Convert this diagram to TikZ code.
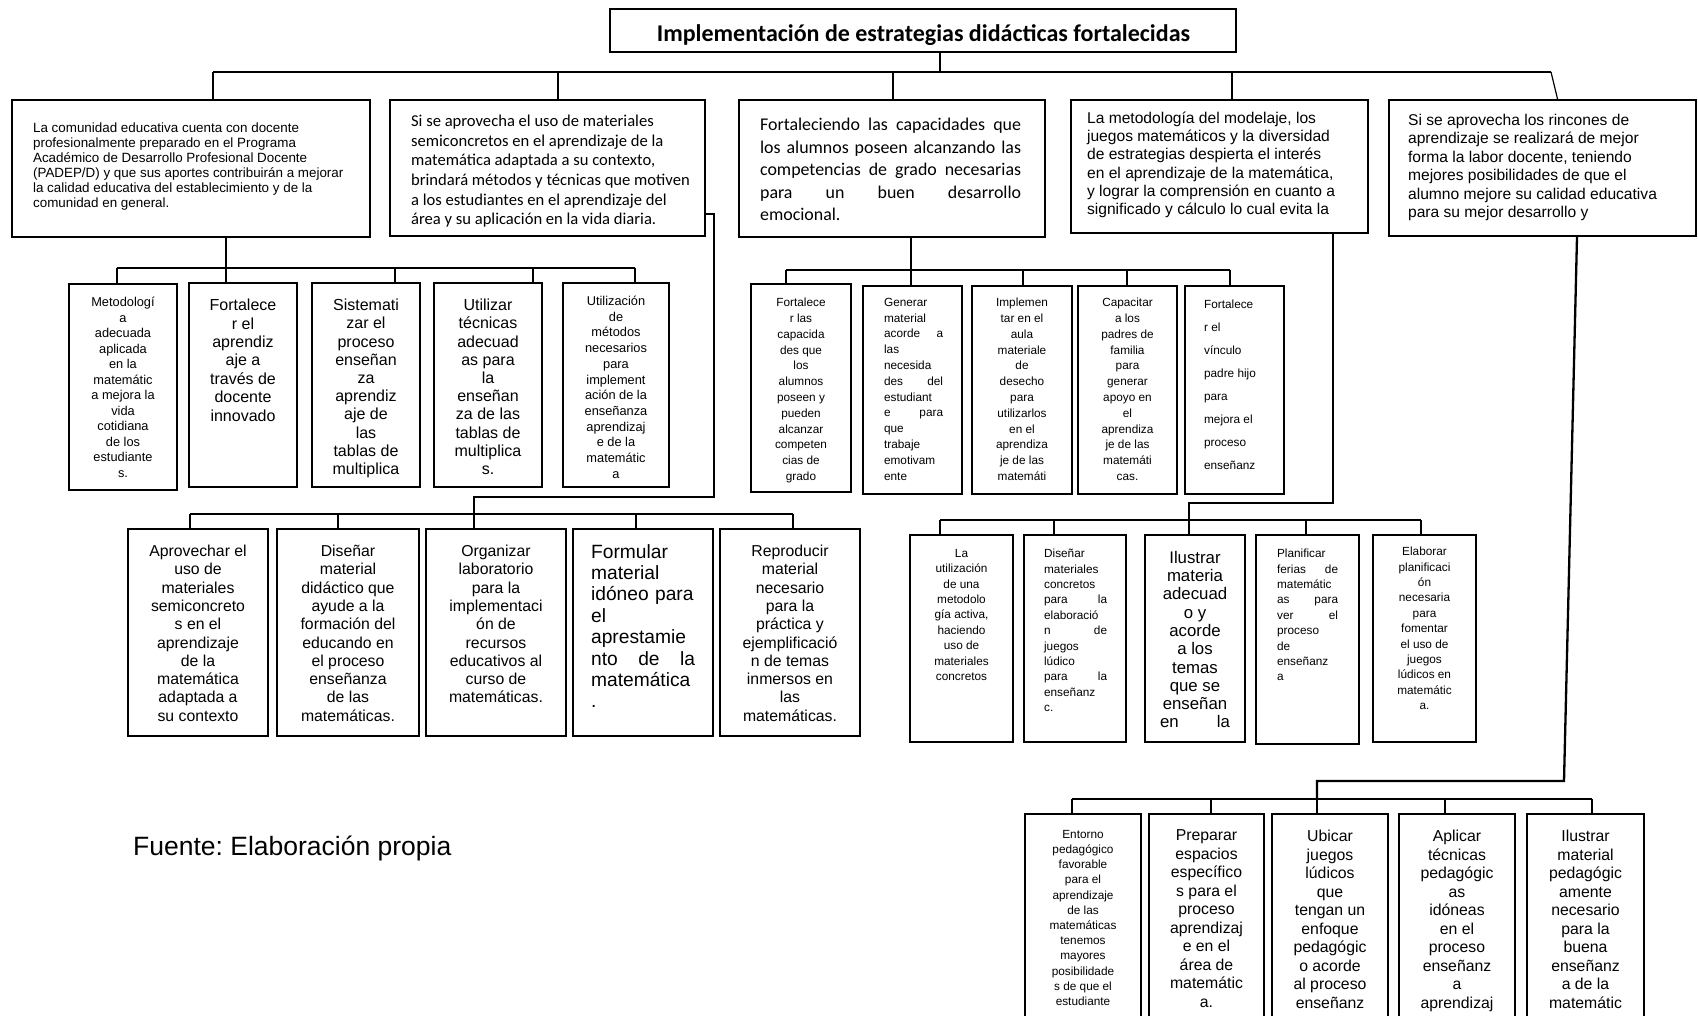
\documentclass[tikz,border=0pt]{standalone}
\usepackage{fontspec}
\setmainfont{Liberation Sans}
\newfontfamily\calibri{Carlito}
\frenchspacing
\newcommand{\tam}[2]{\fontsize{#1}{#2}\selectfont}
%Box from (x1,y1) to (x2,y2), y grows downwards
\newcommand{\caja}[5]{\node[caja, minimum width={#4-#2}, minimum height={#5-#3}] (#1) at ({(#2+#4)/2},{(#3+#5)/2}) {};}
%One justified line of the B3 text
\newcommand{\linea}[1]{\makebox[261pt][s]{#1}}
\tikzset{
  caja/.style={draw, line width=2.2pt, inner sep=0pt},
  txt/.style={anchor=north, align=center, inner sep=0pt},
  txtl/.style={anchor=north west, align=left, inner sep=0pt},
  hilo/.style={line width=1.2pt},
  rama/.style={line width=2.3pt},
  chica/.style={font=\tam{11.8}{15.8}},
  media/.style={font=\tam{12.8}{15.5}},
  grande/.style={font=\tam{15.8}{18.3}},
}

\begin{document}
\begin{tikzpicture}[x=1pt, y=-1pt]
\useasboundingbox (0,0) rectangle (1698,1016);
\clip (0,0) rectangle (1698,1016);

%%%%%%%%%%%%%%%%%%%%%%%%%%%%%%%%%%%%%%%%%%%%%%%%%%%%%%%%%%%%%%%%%%%%%%%%
%	Title and first row of boxes										 %
%%%%%%%%%%%%%%%%%%%%%%%%%%%%%%%%%%%%%%%%%%%%%%%%%%%%%%%%%%%%%%%%%%%%%%%%

	%Title, its descenders are cut by the box
	\caja{tit}{610}{9}{1236}{52}
	\begin{scope}
		\clip (610,9) rectangle (1236,45);
		\node[anchor=base, inner sep=0pt, font=\calibri\bfseries\tam{24}{26}] (tit-t) at (923.5,42) {Implementación de estrategias didácticas fortalecidas};
	\end{scope}

	\caja{B1}{12}{100}{370}{237}
	\caja{B2}{390}{100}{705}{236}
	\caja{B3}{739}{100}{1045}{237}
	\caja{B4}{1071}{100}{1368}{233}
	\caja{B5}{1389}{100}{1696}{236}

	\node[txtl, font=\tam{13.4}{15}] (B1-t) at ([xshift=22pt,yshift=-24pt]B1.north west) {La comunidad educativa cuenta con docente\\profesionalmente preparado en el Programa\\Académico de Desarrollo Profesional Docente\\(PADEP/D) y que sus aportes contribuirán a mejorar\\la calidad educativa del establecimiento y de la\\comunidad en general.};
	\node[txtl, font=\calibri\tam{16.6}{19.6}] (B2-t) at ([xshift=22pt,yshift=-16pt]B2.north west) {Si se aprovecha el uso de materiales\\semiconcretos en el aprendizaje de la\\matemática adaptada a su contexto,\\brindará métodos y técnicas que motiven\\a los estudiantes en el aprendizaje del\\área y su aplicación en la vida diaria.};
	\node[txtl, font=\calibri\tam{17.9}{22.5}] (B3-t) at ([xshift=22pt,yshift=-19pt]B3.north west) {\linea{Fortaleciendo las capacidades que}\\\linea{los alumnos poseen alcanzando las}\\\linea{competencias de grado necesarias}\\\linea{para un buen desarrollo}\\emocional.};
	\node[txtl, font=\tam{15.6}{18.2}] (B4-t) at ([xshift=17pt,yshift=-13pt]B4.north west) {La metodología del modelaje, los\\juegos matemáticos y la diversidad\\de estrategias despierta el interés\\en el aprendizaje de la matemática,\\y lograr la comprensión en cuanto a\\significado y cálculo lo cual evita la};
	\node[txtl, font=\tam{15.6}{18.4}] (B5-t) at ([xshift=20pt,yshift=-15pt]B5.north west) {Si se aprovecha los rincones de\\aprendizaje se realizará de mejor\\forma la labor docente, teniendo\\mejores posibilidades de que el\\alumno mejore su calidad educativa\\para su mejor desarrollo y};

	%Connectors from the title
	\coordinate (t0) at (940,72);
	\coordinate (bus0l) at (213,72);
	\coordinate (bus0r) at (1551,72);
	\draw[hilo] (tit.south -| t0) -- (t0);
	\draw[hilo] (bus0l) -- (bus0r);
	\foreach \x/\n in {213/B1,558/B2,893/B3,1232/B4}
		\draw[hilo] (\x,72) -- (\n.north -| \x,0);
	\draw[hilo] (bus0r) -- ([xshift=15pt]B5.north);

%%%%%%%%%%%%%%%%%%%%%%%%%%%%%%%%%%%%%%%%%%%%%%%%%%%%%%%%%%%%%%%%%%%%%%%%
%	Boxes under B1 and B2												 %
%%%%%%%%%%%%%%%%%%%%%%%%%%%%%%%%%%%%%%%%%%%%%%%%%%%%%%%%%%%%%%%%%%%%%%%%

	\caja{L1a}{69}{284}{177}{490}
	\caja{L1b}{189}{283}{297}{487}
	\caja{L1c}{312}{283}{420}{487}
	\caja{L1d}{434}{283}{542}{487}
	\caja{L1e}{563}{283}{669}{487}

	\node[txt, media] (L1a-t) at ([yshift=-14pt]L1a.north) {Metodologí\\a\\adecuada\\aplicada\\en la\\matemátic\\a mejora la\\vida\\cotidiana\\de los\\estudiante\\s.};
	\node[txt, font=\tam{16}{18.4}] (L1b-t) at ([yshift=-17pt]L1b.north) {Fortalece\\r el\\aprendiz\\aje a\\través de\\docente\\innovado};
	\node[txt, font=\tam{16}{18.2}] (L1c-t) at ([yshift=-17pt]L1c.north) {Sistemati\\zar el\\proceso\\enseñan\\za\\aprendiz\\aje de\\las\\tablas de\\multiplica};
	\node[txt, font=\tam{16}{18.2}] (L1d-t) at ([yshift=-17pt]L1d.north) {Utilizar\\técnicas\\adecuad\\as para\\la\\enseñan\\za de las\\tablas de\\multiplica\\s.};
	\node[txt, font=\tam{12.8}{15.7}] (L1e-t) at ([yshift=-14pt]L1e.north) {Utilización\\de\\métodos\\necesarios\\para\\implement\\ación de la\\enseñanza\\aprendizaj\\e de la\\matemátic\\a};

	\coordinate (j1) at (226,268);
	\draw[rama] (j1 |- B1.south) -- (j1);
	\draw[rama] (117,268) -- (635,268);
	\foreach \x/\n in {117/L1a,226/L1b,395/L1c,533/L1d,635/L1e}
		\draw[rama] (\x,268) -- (\n.north -| \x,0);

	\caja{L2a}{128}{529}{268}{736}
	\caja{L2b}{277}{529}{419}{736}
	\caja{L2c}{426}{529}{566}{736}
	\caja{L2d}{573}{529}{713}{736}
	\caja{L2e}{720}{529}{860}{736}

	\node[txt, grande] (L2a-t) at ([yshift=-17pt]L2a.north) {Aprovechar el\\uso de\\materiales\\semiconcreto\\s en el\\aprendizaje\\de la\\matemática\\adaptada a\\su contexto};
	\node[txt, grande] (L2b-t) at ([yshift=-17pt]L2b.north) {Diseñar\\material\\didáctico que\\ayude a la\\formación del\\educando en\\el proceso\\enseñanza\\de las\\matemáticas.};
	\node[txt, grande] (L2c-t) at ([yshift=-17pt]L2c.north) {Organizar\\laboratorio\\para la\\implementaci\\ón de\\recursos\\educativos al\\curso de\\matemáticas.};
	\node[txtl, text width=104pt, font=\tam{19.2}{21.4}] (L2d-t) at ([xshift=19pt,yshift=-16pt]L2d.north west) {Formular\\material\\idóneo para\\el\\aprestamie\\nto\hfill de\hfill la\\matemática\\.};
	\node[txt, grande] (L2e-t) at ([yshift=-17pt]L2e.north) {Reproducir\\material\\necesario\\para la\\práctica y\\ejemplificació\\n de temas\\inmersos en\\las\\matemáticas.};

	%B2 reaches its row from the right side
	\draw[rama] ([yshift=23pt]B2.south east) -| (714,497) -| (474,514);
	\draw[rama] (190,514) -- (793,514);
	\foreach \x/\n in {190/L2a,338/L2b,474/L2c,636/L2d,793/L2e}
		\draw[rama] (\x,514) -- (\n.north -| \x,0);

%%%%%%%%%%%%%%%%%%%%%%%%%%%%%%%%%%%%%%%%%%%%%%%%%%%%%%%%%%%%%%%%%%%%%%%%
%	Boxes under B3, B4 and B5											 %
%%%%%%%%%%%%%%%%%%%%%%%%%%%%%%%%%%%%%%%%%%%%%%%%%%%%%%%%%%%%%%%%%%%%%%%%

	\caja{L3a}{751}{284}{851}{492}
	\caja{L3b}{863}{286}{962}{494}
	\caja{L3c}{972}{286}{1072}{494}
	\caja{L3d}{1078}{286}{1177}{494}
	\caja{L3e}{1185}{286}{1284}{494}

	\node[txt, chica] (L3a-t) at ([yshift=-15pt]L3a.north) {Fortalece\\r las\\capacida\\des que\\los\\alumnos\\poseen y\\pueden\\alcanzar\\competen\\cias de\\grado};
	\node[txtl, chica, text width=59pt] (L3b-t) at ([xshift=22pt,yshift=-13pt]L3b.north west) {Generar\\material\\acorde\hfill a\\las\\necesida\\des\hfill del\\estudiant\\e\hfill para\\que\\trabaje\\emotivam\\ente};
	\node[txt, chica] (L3c-t) at ([yshift=-13pt]L3c.north) {Implemen\\tar en el\\aula\\materiale\\de\\desecho\\para\\utilizarlos\\en el\\aprendiza\\je de las\\matemáti};
	\node[txt, chica] (L3d-t) at ([yshift=-13pt]L3d.north) {Capacitar\\a los\\padres de\\familia\\para\\generar\\apoyo en\\el\\aprendiza\\je de las\\matemáti\\cas.};
	\node[txtl, font=\tam{11.8}{23}] (L3e-t) at ([xshift=20pt,yshift=-15pt]L3e.north west) {Fortalece\\r el\\vínculo\\padre hijo\\para\\mejora el\\proceso\\enseñanz};

	\coordinate (j3) at (911,270);
	\draw[rama] (j3 |- B3.south) -- (j3);
	\draw[rama] (786,270) -- (1230,270);
	\foreach \x/\n in {786/L3a,911/L3b,1023/L3c,1127/L3d,1230/L3e}
		\draw[rama] (\x,270) -- (\n.north -| \x,0);

	\caja{L4a}{910}{535}{1013}{742}
	\caja{L4b}{1024}{535}{1126}{742}
	\caja{L4c}{1145}{535}{1245}{742}
	\caja{L4d}{1256}{535}{1359}{744}
	\caja{L4e}{1373}{535}{1476}{742}

	\node[txt, font=\tam{11.8}{15.4}] (L4a-t) at ([yshift=-15pt]L4a.north) {La\\utilización\\de una\\metodolo\\gía activa,\\haciendo\\uso de\\materiales\\concretos};
	\node[txtl, text width=63pt, font=\tam{11.8}{15.4}] (L4b-t) at ([xshift=21pt,yshift=-15pt]L4b.north west) {Diseñar\\materiales\\concretos\\para\hfill la\\elaboració\\n\hfill de\\juegos\\lúdico\\para\hfill la\\enseñanz\\c.};
	\node[txt, font=\tam{16.8}{18.3}] (L4c-t) at ([yshift=-17pt]L4c.north) {Ilustrar\\materia\\adecuad\\o y\\acorde\\a los\\temas\\que se\\enseñan\\\makebox[70pt]{en\hfill la}};
	\node[txtl, text width=61pt, font=\tam{11.8}{15.4}] (L4d-t) at ([xshift=22pt,yshift=-15pt]L4d.north west) {Planificar\\ferias\hfill de\\matemátic\\as\hfill para\\ver\hfill el\\proceso\\de\\enseñanz\\a};
	\node[txt, font=\tam{11.8}{15.4}] (L4e-t) at ([yshift=-13pt]L4e.north) {Elaborar\\planificaci\\ón\\necesaria\\para\\fomentar\\el uso de\\juegos\\lúdicos en\\matemátic\\a.};

	%B4 runs down its right side to its row
	\draw[rama] (B4.south -| 1333,0) |- (1189,503) -- (1189,520);
	\draw[rama] (940,520) -- (1421,520);
	\foreach \x/\n in {940/L4a,1054/L4b,1189/L4c,1306/L4d,1421/L4e}
		\draw[rama] (\x,520) -- (\n.north -| \x,0);

	%Last row runs past the bottom of the page
	\caja{L5a}{1025}{814}{1141}{1030}
	\caja{L5b}{1149}{814}{1264}{1030}
	\caja{L5c}{1272}{814}{1388}{1030}
	\caja{L5d}{1399}{814}{1515}{1030}
	\caja{L5e}{1527}{814}{1644}{1030}

	\node[txt, font=\tam{11.8}{15.2}] (L5a-t) at ([yshift=-17pt]L5a.north) {Entorno\\pedagógico\\favorable\\para el\\aprendizaje\\de las\\matemáticas\\tenemos\\mayores\\posibilidade\\s de que el\\estudiante};
	\node[txt, font=\tam{15.8}{18.5}] (L5b-t) at ([yshift=-17pt]L5b.north) {Preparar\\espacios\\específico\\s para el\\proceso\\aprendizaj\\e en el\\área de\\matemátic\\a.};
	\node[txt, font=\tam{15.8}{18.5}] (L5c-t) at ([yshift=-17pt]L5c.north) {Ubicar\\juegos\\lúdicos\\que\\tengan un\\enfoque\\pedagógic\\o acorde\\al proceso\\enseñanz};
	\node[txt, font=\tam{15.8}{18.5}] (L5d-t) at ([yshift=-17pt]L5d.north) {Aplicar\\técnicas\\pedagógic\\as\\idóneas\\en el\\proceso\\enseñanz\\a\\aprendizaj};
	\node[txt, font=\tam{15.8}{18.5}] (L5e-t) at ([yshift=-17pt]L5e.north) {Ilustrar\\material\\pedagógic\\amente\\necesario\\para la\\buena\\enseñanz\\a de la\\matemátic};

	%B5 comes down its right side, slightly slanted
	\draw[rama] (B5.south -| 1577,0) -- (1564,781) -- (1317,781) -- (1317,799);
	\draw[rama] (1072,799) -- (1592,799);
	\foreach \x/\n in {1072/L5a,1211/L5b,1317/L5c,1445/L5d,1592/L5e}
		\draw[rama] (\x,799) -- (\n.north -| \x,0);

	\node[anchor=west, inner sep=0pt, font=\tam{26.5}{30}] (fuente) at (133,848) {Fuente: Elaboración propia};

\end{tikzpicture}
\end{document}
